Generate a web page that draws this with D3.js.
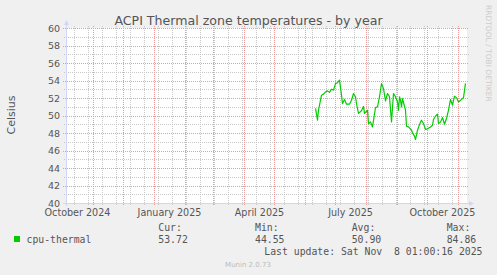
<!DOCTYPE html>
<html>
<head>
<meta charset="utf-8">
<script src="https://cdn.jsdelivr.net/npm/d3@7"></script>
<style>
body { margin: 0; background: #f0f0f0; }
svg { display: block; }
text { font-family: "DejaVu Sans", sans-serif; fill: #555; }
.mono { font-family: "DejaVu Sans Mono", monospace; white-space: pre; }
</style>
</head>
<body>
<div id="chart"></div>
<script>
// values (cpu-thermal, Celsius)
var dates = [
  "2025-06-11","2025-06-13","2025-06-14","2025-06-17","2025-06-19","2025-06-21","2025-06-23","2025-06-25",
  "2025-06-27","2025-06-29","2025-07-01","2025-07-03","2025-07-05","2025-07-07","2025-07-08","2025-07-10",
  "2025-07-12","2025-07-15","2025-07-17","2025-07-19","2025-07-21","2025-07-22","2025-07-24","2025-07-27",
  "2025-07-29","2025-07-30","2025-08-02","2025-08-03","2025-08-05","2025-08-07","2025-08-10","2025-08-12",
  "2025-08-14","2025-08-16","2025-08-18","2025-08-20","2025-08-22","2025-08-24","2025-08-26","2025-08-28",
  "2025-08-30","2025-09-01","2025-09-02","2025-09-03","2025-09-04","2025-09-05","2025-09-06","2025-09-09",
  "2025-09-10","2025-09-12","2025-09-15","2025-09-16","2025-09-18","2025-09-19","2025-09-21","2025-09-24",
  "2025-09-25","2025-09-27","2025-09-29","2025-10-01","2025-10-04","2025-10-06","2025-10-07","2025-10-09",
  "2025-10-11","2025-10-12","2025-10-14","2025-10-16","2025-10-18","2025-10-20","2025-10-22","2025-10-24",
  "2025-10-26","2025-10-28","2025-10-30","2025-11-01","2025-11-04","2025-11-06","2025-11-08"
]
var temps = [
  50.86,49.52,50.66,52.38,52.5,52.75,52.87,52.7,
  53.06,52.95,53.7,53.8,54.1,52.4,51.4,51.9,
  51.35,51.35,51.8,52.57,52.2,51.4,50.3,50.6,
  51.1,50.3,50.66,49.1,49.33,48.75,50.97,51.04,
  52.2,53.7,53.14,51.73,52.57,52.2,49.33,52.57,
  52.2,51.6,50.66,52.2,51.8,51.04,52.0,50.66,
  48.83,48.75,48.38,48.07,47.7,47.3,48.38,49.33,
  49.52,49.14,48.46,48.53,48.75,48.95,49.6,49.97,
  50.2,49.14,49.3,49.83,49.06,49.71,50.66,51.9,
  51.23,52.26,52.1,51.6,51.9,52.1,53.72
]
var yMajorTicks = [40, 42, 44, 46, 48, 50, 52, 54, 56, 58, 60]
var labelMonths = ["2024-10-01", "2025-01-01", "2025-04-01", "2025-07-01", "2025-10-01"]
var legendHeads = ["Cur:", "Min:", "Avg:", "Max:"]
var legendValues = ["53.72", "44.55", "50.90", "84.86"]
var seriesName = "cpu-thermal"
var lastUpdate = "Last update: Sat Nov  8 01:00:16 2025"

var width = 497, height = 275
// plot area (window.top is read-only, so no "top" here)
var pLeft = 66, pRight = 466, pTop = 28, pBottom = 203

var parse = d3.utcParse("%Y-%m-%d")
var start = parse("2024-10-05"), end = parse("2025-11-09")

var x = d3.scaleUtc().domain([start, end]).range([pLeft + 0.5, pRight + 0.5])
var y = d3.scaleLinear().domain([40, 60]).range([pBottom + 0.5, pTop + 0.5])

function crisp(v) { return Math.round(v - 0.5) + 0.5 }

var svg = d3.select("#chart").append("svg")
  .attr("width", width)
  .attr("height", height)

svg.append("rect")
  .attr("width", width).attr("height", height)
  .attr("fill", "#f0f0f0")

// canvas
svg.append("rect")
  .attr("x", pLeft).attr("y", pTop)
  .attr("width", pRight - pLeft + 1).attr("height", pBottom - pTop + 1)
  .attr("fill", "#ffffff")

var grid = svg.append("g")

// minor grid, every two weeks (vertical) and every degree (horizontal)
var minorX = d3.utcDay.range(parse("2024-10-13"), end, 14)
grid.selectAll(".vmin").data(minorX).enter().append("line")
  .attr("x1", d => crisp(x(d))).attr("x2", d => crisp(x(d)))
  .attr("y1", pTop - 2).attr("y2", pBottom + 3)
  .attr("stroke", "#c8c8c8").attr("stroke-dasharray", "1,1")

var minorY = d3.range(41, 60, 2)
grid.selectAll(".hmin").data(minorY).enter().append("line")
  .attr("x1", pLeft - 2).attr("x2", pRight + 3)
  .attr("y1", d => crisp(y(d))).attr("y2", d => crisp(y(d)))
  .attr("stroke", "#c8c8c8").attr("stroke-dasharray", "1,1")

// major grid
var majorX = d3.utcMonth.range(start, end)
grid.selectAll(".vmaj").data(majorX).enter().append("line")
  .attr("x1", d => crisp(x(d))).attr("x2", d => crisp(x(d)))
  .attr("y1", pTop - 2).attr("y2", pBottom + 3)
  .attr("stroke", "#ee9a9a").attr("stroke-dasharray", "1,1")

grid.selectAll(".hmaj").data(yMajorTicks).enter().append("line")
  .attr("x1", pLeft - 3).attr("x2", pRight + 3)
  .attr("y1", d => crisp(y(d))).attr("y2", d => crisp(y(d)))
  .attr("stroke", "#ee9a9a").attr("stroke-dasharray", "1,1")

// axes with arrows
var axisColor = "#cfd6f8"
svg.append("line")
  .attr("x1", pLeft + 0.5).attr("x2", pLeft + 0.5)
  .attr("y1", pBottom + 3).attr("y2", pTop - 5)
  .attr("stroke", axisColor)
svg.append("path")
  .attr("d", "M" + (pLeft - 2) + "," + (pTop - 3) + "L" + (pLeft + 3) + "," + (pTop - 3) + "L" + (pLeft + 0.5) + "," + (pTop - 8) + "Z")
  .attr("fill", axisColor)
svg.append("line")
  .attr("x1", pLeft - 3).attr("x2", pRight + 5)
  .attr("y1", pBottom + 0.5).attr("y2", pBottom + 0.5)
  .attr("stroke", axisColor)
svg.append("path")
  .attr("d", "M" + (pRight + 3) + "," + (pBottom - 2) + "L" + (pRight + 3) + "," + (pBottom + 3) + "L" + (pRight + 8) + "," + (pBottom + 0.5) + "Z")
  .attr("fill", axisColor)

// tick labels
svg.selectAll(".ylab").data(yMajorTicks).enter().append("text")
  .attr("x", 60).attr("y", d => y(d)).attr("dy", "0.36em")
  .attr("text-anchor", "end")
  .style("font-size", "9.5px")
  .text(d => d)

var fmtMonth = d3.utcFormat("%B %Y")
svg.selectAll(".xlab").data(labelMonths.map(parse)).enter().append("text")
  .attr("x", d => x(d3.utcDay.offset(d, 15)))
  .attr("y", 215.5)
  .attr("text-anchor", "middle")
  .style("font-size", "9.6px")
  .text(d => fmtMonth(d))

// the series
var points = dates.map((d, i) => ({ date: parse(d), value: temps[i] }))
var line = d3.line()
  .x(d => x(d.date))
  .y(d => y(d.value))
svg.append("path")
  .datum(points)
  .attr("d", line)
  .attr("fill", "none")
  .attr("stroke", "#00cc00")
  .attr("stroke-width", 1.2)
  .attr("stroke-linejoin", "round")

// titles
svg.append("text")
  .attr("x", width / 2).attr("y", 24.5)
  .attr("text-anchor", "middle")
  .style("font-size", "12.6px")
  .text("ACPI Thermal zone temperatures - by year")

svg.append("text")
  .attr("transform", "translate(15,115) rotate(-90)")
  .attr("text-anchor", "middle")
  .style("font-size", "11px")
  .text("Celsius")

svg.append("text")
  .attr("transform", "translate(485.5,5) rotate(90)")
  .style("font-size", "7.5px")
  .style("fill", "#cccccc")
  .text("RRDTOOL / TOBI OETIKER")

// legend
svg.append("rect")
  .attr("x", 14).attr("y", 236)
  .attr("width", 6).attr("height", 6)
  .attr("fill", "#00cc00")

svg.append("text").attr("class", "mono")
  .attr("x", 26.5).attr("y", 242.8)
  .style("font-size", "9.8px")
  .text(seriesName)

var colX = [158.3, 255, 351.7, 446.7]
svg.selectAll(".lhead").data(legendHeads).enter().append("text")
  .attr("class", "mono")
  .attr("x", (d, i) => colX[i]).attr("y", 231)
  .style("font-size", "9.8px")
  .text(d => d)
svg.selectAll(".lval").data(legendValues).enter().append("text")
  .attr("class", "mono")
  .attr("x", (d, i) => colX[i]).attr("y", 242.8)
  .style("font-size", "9.8px")
  .text(d => d)

svg.append("text").attr("class", "mono")
  .attr("x", 482.5).attr("y", 255)
  .attr("text-anchor", "end")
  .style("font-size", "9.8px")
  .text(lastUpdate)

svg.append("text")
  .attr("x", 248).attr("y", 267)
  .attr("text-anchor", "middle")
  .style("font-size", "7px")
  .style("fill", "#bbbbbb")
  .text("Munin 2.0.73")
</script>
</body>
</html>
